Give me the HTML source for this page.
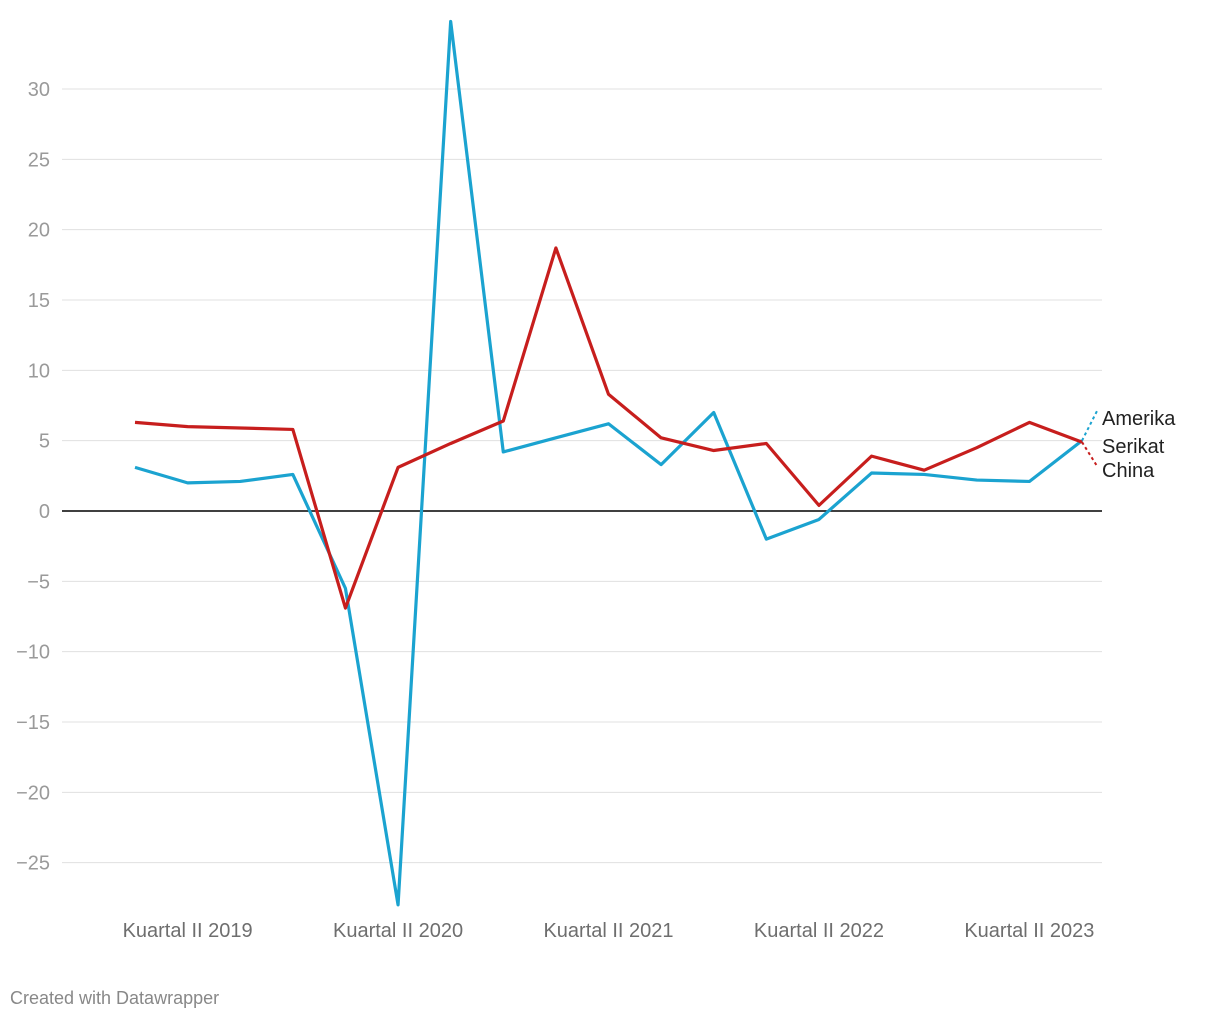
<!DOCTYPE html>
<html><head><meta charset="utf-8"><style>
body{margin:0;background:#fff;font-family:"Liberation Sans",sans-serif;}
svg text{font-family:"Liberation Sans",sans-serif;}
</style></head><body>
<svg id="chart" width="1220" height="1020" xmlns="http://www.w3.org/2000/svg">
<g id="grid"></g>
<g id="ylabels"></g>
<g id="xlabels"></g>
<g id="series"></g>
<text x="1102" y="425" font-size="20" fill="#222"><tspan x="1102" y="425">Amerika</tspan><tspan x="1102" y="453">Serikat</tspan></text>
<text x="1102" y="477" font-size="20" fill="#222">China</text>
<text x="10" y="1004" font-size="18" fill="#888">Created with Datawrapper</text>
</svg>
<script>
const quarters = ["Q1 2019","Q2 2019","Q3 2019","Q4 2019","Q1 2020","Q2 2020","Q3 2020","Q4 2020","Q1 2021","Q2 2021","Q3 2021","Q4 2021","Q1 2022","Q2 2022","Q3 2022","Q4 2022","Q1 2023","Q2 2023","Q3 2023"];
const usValues = [3.1,2.0,2.1,2.6,-5.5,-28.0,34.8,4.2,5.2,6.2,3.3,7.0,-2.0,-0.6,2.7,2.6,2.2,2.1,5.0];
const chinaValues = [6.3,6.0,5.9,5.8,-6.9,3.1,4.8,6.4,18.7,8.3,5.2,4.3,4.8,0.4,3.9,2.9,4.5,6.3,4.9];
const yTicks = [30,25,20,15,10,5,0,-5,-10,-15,-20,-25];
const xTickIdx = [1,5,9,13,17];
const xTickLabels = ["Kuartal II 2019","Kuartal II 2020","Kuartal II 2021","Kuartal II 2022","Kuartal II 2023"];

const NS="http://www.w3.org/2000/svg";
const x = i => 135 + i*(1082-135)/(quarters.length-1);
const y = v => 511 - v*(511-89)/30;
function mk(tag, parent){const e=document.createElementNS(NS,tag);parent.appendChild(e);return e;}
const grid=document.getElementById('grid'), yl=document.getElementById('ylabels'), xl=document.getElementById('xlabels'), ser=document.getElementById('series');
yTicks.forEach(t=>{
  const l=mk('line',grid);
  
  
  l.setAttribute('x1',62);l.setAttribute('x2',1102);l.setAttribute('y1',y(t));l.setAttribute('y2',y(t));
  l.setAttribute('stroke',t===0?'#000':'#e0e0e0');l.setAttribute('stroke-width',t===0?1.5:1);
  const tx=mk('text',yl);
  
  
  tx.setAttribute('x',50);tx.setAttribute('y',y(t)+7);tx.setAttribute('text-anchor','end');
  tx.setAttribute('font-size',20);tx.setAttribute('fill','#9a9a9a');
  tx.textContent=t<0?'\u2212'+Math.abs(t):String(t);
});
xTickIdx.forEach((idx,k)=>{
  const tx=mk('text',xl);
  
  
  tx.setAttribute('x',x(idx));tx.setAttribute('y',937);tx.setAttribute('text-anchor','middle');
  tx.setAttribute('font-size',20);tx.setAttribute('fill','#6e6e6e');
  tx.textContent=xTickLabels[k];
});
function drawLine(vals,color,name,labelY){
  const p=mk('polyline',ser);
  
  
  p.setAttribute('points',vals.map((v,i)=>x(i)+','+y(v)).join(' '));
  p.setAttribute('fill','none');p.setAttribute('stroke',color);p.setAttribute('stroke-width',3.2);p.setAttribute('stroke-linejoin','round');
  const n=vals.length-1;
  const d=mk('line',ser);
  
  
  d.setAttribute('x1',x(n));d.setAttribute('y1',y(vals[n]));d.setAttribute('x2',1097);d.setAttribute('y2',labelY);
  d.setAttribute('stroke',color);d.setAttribute('stroke-width',2);d.setAttribute('stroke-dasharray','3,3');
}
drawLine(usValues,'#1ba3d0','line-amerika-serikat',411);
drawLine(chinaValues,'#c71e1d','line-china',466);
</script>
</body></html>
